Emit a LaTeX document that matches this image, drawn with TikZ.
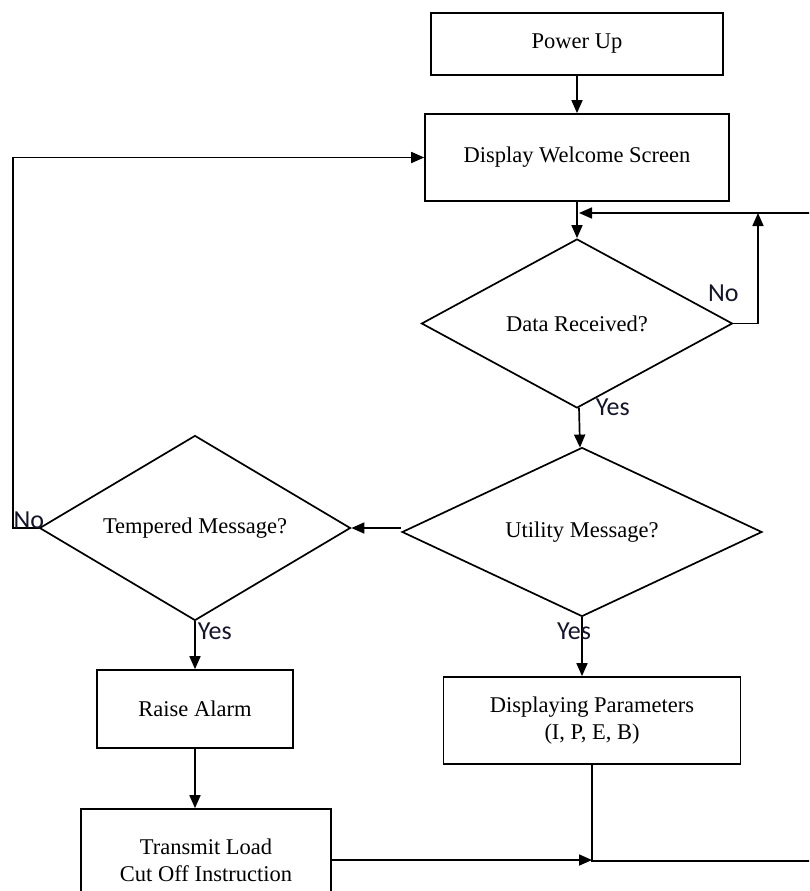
\documentclass[tikz,border=0pt]{standalone}
\usepackage{fontspec}
\setmainfont{Liberation Serif}
\newfontfamily\lblfont{Carlito}
\usetikzlibrary{positioning,shapes.geometric,arrows.meta}
\definecolor{lblcol}{HTML}{14142A}
\begin{document}
\begin{tikzpicture}[x=1pt,y=-1pt,line width=1.7pt,>={Triangle[length=13pt,width=11pt]},
  box/.style={draw,rectangle,font=\fontsize{22.5}{27}\selectfont,align=center},
  decision/.style={draw,diamond,inner sep=0pt,font=\fontsize{22.5}{27}\selectfont},
  lbl/.style={font=\lblfont\fontsize{26}{30}\selectfont,text=lblcol,inner sep=0pt}]
  \useasboundingbox (0,0) rectangle (809,891);
  \clip (0,0) rectangle (809,891);
  \node[box,minimum width=292,minimum height=62] (pwr) at (577,44) {Power Up};
  \node[box,minimum width=304,minimum height=87,below of=pwr,node distance=113.5pt] (disp) {Display Welcome Screen};
  \node[decision,minimum width=311,minimum height=169,aspect=1.84,below of=disp,node distance=166pt] (recv) {Data Received?};
  \node[decision,minimum width=360,minimum height=169,aspect=2.13,below of=recv,node distance=208.5pt,xshift=5pt] (util) {Utility Message?};
  \node[decision,minimum width=311,minimum height=185,aspect=1.68,left of=util,node distance=387pt,yshift=4pt] (tamp) {Tempered Message?};
  \node[box,minimum width=196,minimum height=78,below of=tamp,node distance=181pt] (alarm) {Raise Alarm};
  \node[box,minimum width=250,minimum height=102,below of=alarm,node distance=151pt,xshift=11pt] (cut) {Transmit Load\\Cut Off Instruction};
  \node[box,minimum width=297,minimum height=87,below of=util,node distance=188.5pt,xshift=10pt] (param) {Displaying Parameters\\(I, P, E, B)};
  \coordinate (backin) at (812,213);
  \coordinate (backtip) at (579,213);
  \coordinate (noup) at (758,213);
  \coordinate (outr) at (812,861);
  \draw[->] (pwr) to (disp);
  \draw[->] (disp) to (recv);
  \draw[->] (recv.east) -| (noup);
  \draw[->] (backin) to (backtip);
  \draw[->] (recv) to (util);
  \draw[->] (tamp.east -| util.west) -- (tamp.east);
  \draw[->] (tamp.west) -- ++(-26,0) |- (disp.west);
  \draw[->] (tamp) to (alarm);
  \draw[->] (alarm.south) -- (alarm.south |- cut.north);
  \draw[->] (util.south) -- (util.south |- param.north);
  \draw (param.south) |- (outr);
  \draw[->] (cut.east) -- (cut.east -| param.south);
  \node[lbl,anchor=base east] at ([xshift=6pt,yshift=22pt]recv.east) {No};
  \node[lbl,anchor=base west] at ([xshift=-26pt]tamp.west) {No};
  \node[lbl,anchor=base west] at ([xshift=18pt,yshift=-7pt]recv.south) {Yes};
  \node[lbl,anchor=base west] at ([xshift=2pt,yshift=-18pt]tamp.south) {Yes};
  \node[lbl,anchor=base] at ([xshift=-8pt,yshift=-22pt]util.south) {Yes};
\end{tikzpicture}
\end{document}
